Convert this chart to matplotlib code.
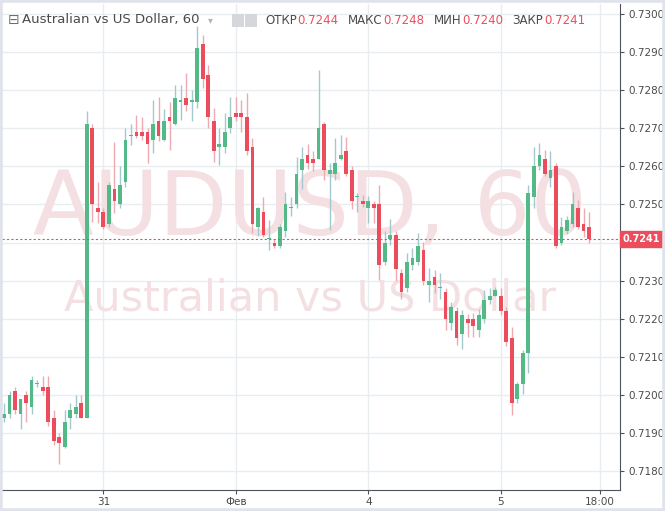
import matplotlib.pyplot as plt
from matplotlib.patches import Rectangle
import numpy as np

# hourly AUDUSD candles, 30 Jan 06:00 .. 5 Feb 16:00
opens = [0.7194, 0.7195, 0.7201, 0.7195, 0.7200, 0.7197, 0.7203, 0.7202, 0.7202, 0.7194,
         0.7189, 0.71865, 0.7194, 0.7195, 0.7198, 0.7194, 0.7270, 0.7249, 0.7248, 0.7245,
         0.7254, 0.7250, 0.7256, 0.7268, 0.7269, 0.7269, 0.7269, 0.7267, 0.7272, 0.7267,
         0.7273, 0.7271, 0.7277, 0.7278, 0.7277, 0.7277, 0.7292, 0.7284, 0.7272, 0.7265,
         0.7265, 0.7270, 0.7274, 0.7274, 0.7273, 0.7265, 0.7244, 0.7248, 0.7241, 0.7240,
         0.7239, 0.7243, 0.7249, 0.7250, 0.7259, 0.7263, 0.7262, 0.7262, 0.7271, 0.7258,
         0.7258, 0.7262, 0.7264, 0.7259, 0.7252, 0.7251, 0.7249, 0.7250, 0.7250, 0.7235,
         0.7241, 0.7242, 0.7232, 0.7228, 0.7234, 0.7235, 0.7238, 0.7229, 0.7231, 0.7228,
         0.7227, 0.7219, 0.7222, 0.7216, 0.7220, 0.7220, 0.7217, 0.7220, 0.7225, 0.7226,
         0.7226, 0.7222, 0.7215, 0.7199, 0.7203, 0.7211, 0.7252, 0.7260, 0.7262, 0.7257,
         0.7260, 0.7240, 0.7243, 0.7245, 0.7249, 0.7245, 0.7244]
highs = [0.7198, 0.7201, 0.7202, 0.7199, 0.7201, 0.7205, 0.7204, 0.7205, 0.7205, 0.7196,
         0.7190, 0.7196, 0.7198, 0.7200, 0.7200, 0.72745, 0.7271, 0.7256, 0.7249, 0.7256,
         0.72665, 0.7260, 0.7270, 0.7271, 0.72735, 0.7273, 0.7270, 0.72774, 0.72783, 0.7275,
         0.7277, 0.72814, 0.72814, 0.72844, 0.7280, 0.72967, 0.72945, 0.72866, 0.72752, 0.7270,
         0.7274, 0.72783, 0.72783, 0.72774, 0.72792, 0.72674, 0.72493, 0.7252, 0.7246, 0.7241,
         0.7245, 0.72534, 0.7252, 0.72625, 0.7265, 0.7266, 0.7264, 0.72853, 0.72717, 0.72608,
         0.72674, 0.72682, 0.72677, 0.7260, 0.7253, 0.72525, 0.72522, 0.7251, 0.72551, 0.7243,
         0.72461, 0.7243, 0.7233, 0.72372, 0.72385, 0.72424, 0.72402, 0.72333, 0.72328, 0.72319,
         0.7228, 0.72243, 0.72232, 0.72223, 0.72214, 0.72215, 0.72225, 0.72275, 0.7228, 0.72283,
         0.7228, 0.72232, 0.72179, 0.72035, 0.72118, 0.72551, 0.72652, 0.72662, 0.72643, 0.72641,
         0.7261, 0.72468, 0.7247, 0.72534, 0.72511, 0.7249, 0.7248]
lows = [0.7193, 0.7194, 0.7195, 0.7191, 0.7193, 0.7195, 0.7202, 0.7200, 0.7192, 0.7187,
        0.7182, 0.7186, 0.7191, 0.7194, 0.7194, 0.7194, 0.72455, 0.72451, 0.72435, 0.7244,
        0.72477, 0.7249, 0.72547, 0.72656, 0.72674, 0.7267, 0.7261, 0.72634, 0.72667, 0.72666,
        0.72643, 0.72709, 0.72722, 0.72744, 0.7272, 0.72753, 0.72805, 0.7270, 0.72612, 0.72604,
        0.72634, 0.72687, 0.7272, 0.72691, 0.7263, 0.72424, 0.72417, 0.72415, 0.7238, 0.72385,
        0.72385, 0.72416, 0.7247, 0.7249, 0.7254, 0.72592, 0.72587, 0.7262, 0.72564, 0.72433,
        0.72564, 0.72617, 0.72574, 0.72488, 0.72481, 0.72493, 0.72451, 0.72451, 0.72302, 0.7234,
        0.72394, 0.7230, 0.72252, 0.7227, 0.72328, 0.7234, 0.72289, 0.72245, 0.72267, 0.72251,
        0.7217, 0.7217, 0.72131, 0.72122, 0.72153, 0.72153, 0.72153, 0.7219, 0.7224, 0.7226,
        0.7221, 0.7213, 0.71947, 0.71979, 0.72004, 0.72057, 0.7249, 0.7259, 0.72574, 0.72547,
        0.72385, 0.72394, 0.72423, 0.7244, 0.72435, 0.72415, 0.7240]
closes = [0.7195, 0.7200, 0.7196, 0.7199, 0.7198, 0.7204, 0.7203, 0.7201, 0.7193, 0.7188,
          0.71875, 0.7193, 0.7196, 0.7197, 0.7194, 0.7271, 0.7250, 0.7248, 0.7244, 0.7255,
          0.7251, 0.7255, 0.7267, 0.7268, 0.7268, 0.7268, 0.7266, 0.7271, 0.7268, 0.7272,
          0.7272, 0.7278, 0.7277, 0.7276, 0.7277, 0.7291, 0.7283, 0.7273, 0.7264, 0.7266,
          0.7269, 0.7273, 0.7273, 0.7273, 0.7264, 0.7245, 0.7249, 0.7242, 0.7241, 0.7239,
          0.7244, 0.7250, 0.7249, 0.7258, 0.7262, 0.7261, 0.7261, 0.7270, 0.7259, 0.7259,
          0.7261, 0.7263, 0.7258, 0.7251, 0.7252, 0.7250, 0.7251, 0.7249, 0.7234, 0.7240,
          0.7242, 0.7233, 0.7227, 0.7235, 0.7236, 0.7239, 0.7230, 0.7230, 0.7229, 0.7228,
          0.7220, 0.7223, 0.7215, 0.7221, 0.7219, 0.7218, 0.7221, 0.7225, 0.7226, 0.72275,
          0.7222, 0.7214, 0.7198, 0.7203, 0.7211, 0.7253, 0.7260, 0.7263, 0.7258, 0.7259,
          0.7239, 0.7244, 0.7246, 0.7250, 0.7244, 0.7243, 0.7241]

tick_idx = [18, 42, 66, 90, 108]
tick_labels = ["31", "Фев", "4", "5", "18:00"]
y_ticks = [0.7180, 0.7190, 0.7200, 0.7210, 0.7220, 0.7230, 0.7240,
           0.7250, 0.7260, 0.7270, 0.7280, 0.7290, 0.7300]
last_price = 0.7241
legend_vals = [("ОТКР", "0.7244"), ("МАКС", "0.7248"), ("МИН", "0.7240"), ("ЗАКР", "0.7241")]

colors = {"green": "#53b987", "red": "#eb4d5c", "gwick": "#a3c9cc", "rwick": "#eeaab1",
          "grid": "#e8edf0", "axis": "#4c525e", "text": "#4a4a4a", "water": "#f4e0e2"}

W, H = 665, 511
fig = plt.figure(figsize=(W / 100, H / 100), dpi=100)
fig.patch.set_facecolor("white")

# plot area in pixels: x 2..620, y 4..490
ax = fig.add_axes([2 / W, (H - 490) / H, 618 / W, 486 / H])
ax.set_facecolor("white")

x = np.arange(len(opens))
o = np.array(opens)
c = np.array(closes)
up = c >= o

ax.vlines(x[up], np.array(lows)[up], np.array(highs)[up], color=colors["gwick"], lw=1, zorder=3)
ax.vlines(x[~up], np.array(lows)[~up], np.array(highs)[~up], color=colors["rwick"], lw=1, zorder=3)
body = np.maximum(np.abs(c - o), 0.00003)
ax.bar(x[up], body[up], bottom=np.minimum(o, c)[up], width=0.68, color=colors["green"], zorder=4)
ax.bar(x[~up], body[~up], bottom=np.minimum(o, c)[~up], width=0.68, color=colors["red"], zorder=4)

# watermark
ax.text(0.498, 0.575, "AUDUSD, 60", transform=ax.transAxes, ha="center", va="center",
        fontsize=64, color=colors["water"], zorder=1)
ax.text(0.498, 0.395, "Australian vs US Dollar", transform=ax.transAxes, ha="center", va="center",
        fontsize=31, color=colors["water"], zorder=1)

# last price line
ax.axhline(last_price, color=colors["red"], lw=0.8, ls=(0, (2, 2)), zorder=5)

ax.set_xlim(-0.36, 111.6)
ax.set_ylim(0.71751, 0.73026)

ax.set_xticks(tick_idx)
ax.set_xticklabels(tick_labels)
ax.set_yticks(y_ticks)
# the 0.7240 label sits under the last-price marker
ax.set_yticklabels(["" if abs(v - 0.7240) < 1e-6 else "{:.4f}".format(v) for v in y_ticks])
ax.yaxis.tick_right()
ax.grid(True, color=colors["grid"], lw=1, zorder=0)
ax.set_axisbelow(True)

ax.spines['top'].set_visible(False)
ax.spines['left'].set_visible(False)
ax.spines['right'].set_color(colors["axis"])
ax.spines['bottom'].set_color(colors["axis"])
ax.tick_params(axis='both', colors=colors["axis"], labelcolor=colors["text"], labelsize=7.5,
               length=3, width=0.8)
ax.tick_params(axis='y', pad=3)
ax.tick_params(axis='x', pad=2)

# price label on axis
ax.annotate("0.7241", xy=(1.0, last_price), xycoords=('axes fraction', 'data'),
            xytext=(2, 0), textcoords='offset points', ha='left', va='center',
            fontsize=7, fontweight='bold', color='white', zorder=10,
            bbox=dict(boxstyle='square,pad=0.3', fc=colors["red"], ec=colors["red"]),
            annotation_clip=False)

# legend line at top
ty = 1 - 20 / H
fig.text(8 / W, ty, "⊟", fontsize=10, color="#6a6d78", va="center")
fig.text(22 / W, ty, "Australian vs US Dollar, 60", fontsize=9.5, color=colors["text"], va="center")
fig.text(208 / W, ty, "▾", fontsize=7, color="#b0b3ba", va="center")
for px in [232, 245]:
    fig.patches.append(Rectangle((px / W, (H - 27) / H), 12 / W, 13 / H, transform=fig.transFigure,
                                 fc="#d5d7dc", ec="none"))
px = 265
for name, val in legend_vals:
    t = fig.text(px / W, ty, name, fontsize=8.5, color=colors["text"], va="center")
    fig.canvas.draw()
    bb = t.get_window_extent()
    t2 = fig.text((bb.x1 + 1) / W, ty, val, fontsize=8.5, color=colors["red"], va="center")
    fig.canvas.draw()
    px = t2.get_window_extent().x1 + 9

# light frame around the widget
fig.patches.append(Rectangle((0, 0), 1, 1, transform=fig.transFigure, fill=False,
                             ec="#e0e3eb", lw=4))

fig.savefig("out.png", dpi=100)
